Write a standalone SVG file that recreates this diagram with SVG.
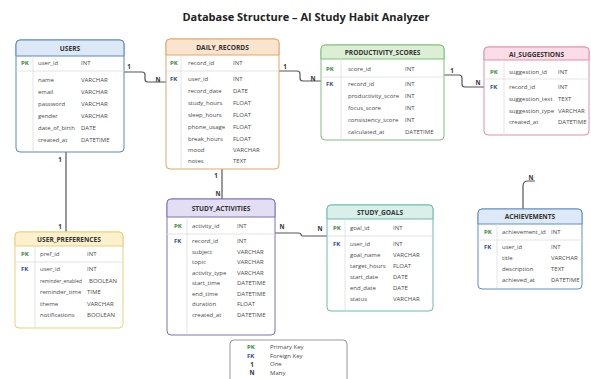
<svg xmlns="http://www.w3.org/2000/svg" width="591" height="379" viewBox="0 0 591 379">
<style>
text{font-family:"Open Sans","Noto Sans","Liberation Sans",sans-serif;fill:#333}
.title{font-size:11px;font-weight:bold;fill:#222}
.hd{font-size:6.6px;font-weight:bold;fill:#333;text-anchor:middle;dominant-baseline:central}
.f{font-size:6px;dominant-baseline:central;fill:#4a4a4a}
.pk{font-size:6px;font-weight:bold;fill:#3d8b3d;dominant-baseline:central}
.fk{font-size:6px;font-weight:bold;fill:#2f4c9a;dominant-baseline:central}
.lb{font-size:6.2px;font-weight:bold;fill:#333;text-anchor:middle;dominant-baseline:central}
.conn path{fill:none;stroke:#555;stroke-width:1.2}
.sep{stroke:#ddd;stroke-width:0.8}
</style>
<rect width="591" height="379" fill="#fff"/>
<text class="title" x="306" y="21" text-anchor="middle">Database Structure – AI Study Habit Analyzer</text>

<g id="connectors" class="conn">
<path d="M124,72 H142 Q145,72 145,75 V79 Q145,82 148,82 H166"/>
<path d="M279,71 H297 Q300,71 300,74 V78 Q300,81 303,81 H321"/>
<path d="M444,75 H459 Q462,75 462,78 V84 Q462,87 465,87 H484"/>
<path d="M66,152 V232"/>
<path d="M222,169 V199"/>
<path d="M275,233 H298 Q301,233 301,234.5 Q301,236 303,236 H327"/>
<path d="M523,209 V186 Q523,181 528,181 H535"/>
<text class="lb" x="129" y="66">1</text>
<text class="lb" x="158" y="79">N</text>
<text class="lb" x="285" y="66">1</text>
<text class="lb" x="313" y="78">N</text>
<text class="lb" x="452" y="70">1</text>
<text class="lb" x="478" y="82">N</text>
<text class="lb" x="60" y="159">1</text>
<text class="lb" x="60" y="226">1</text>
<text class="lb" x="216" y="175">1</text>
<text class="lb" x="218" y="193">N</text>
<text class="lb" x="282" y="226">N</text>
<text class="lb" x="320" y="228">N</text>
<text class="lb" x="531" y="177">N</text>
</g>

<g id="users">
<rect x="16" y="40" width="108" height="112" rx="4" fill="#fff" stroke="#5a86bf" stroke-width="1"/>
<path d="M16,56 V44 Q16,40 20,40 H120 Q124,40 124,44 V56 Z" fill="#dce8f6" stroke="#5a86bf" stroke-width="1"/>
<line class="sep" x1="16" y1="71" x2="124" y2="71"/>
<line class="sep" x1="33" y1="56" x2="33" y2="151"/>
<text class="hd" x="70" y="48">USERS</text>
<text class="pk" x="21" y="63">PK</text>
<text class="f" x="38" y="63">user_id</text><text class="f" x="81" y="63">INT</text>
<text class="f" x="38" y="80">name</text><text class="f" x="81" y="80">VARCHAR</text>
<text class="f" x="38" y="92">email</text><text class="f" x="81" y="92">VARCHAR</text>
<text class="f" x="38" y="103.5">password</text><text class="f" x="81" y="103.5">VARCHAR</text>
<text class="f" x="38" y="115.5">gender</text><text class="f" x="81" y="115.5">VARCHAR</text>
<text class="f" x="38" y="127.5">date_of_birth</text><text class="f" x="81" y="127.5">DATE</text>
<text class="f" x="38" y="139.5">created_at</text><text class="f" x="81" y="139.5">DATETIME</text>
</g>

<g id="daily_records">
<rect x="166" y="39" width="113" height="130" rx="4" fill="#fff" stroke="#e3a567" stroke-width="1"/>
<path d="M166,55 V43 Q166,39 170,39 H275 Q279,39 279,43 V55 Z" fill="#fbe4cd" stroke="#e3a567" stroke-width="1"/>
<line class="sep" x1="166" y1="71" x2="279" y2="71"/>
<line class="sep" x1="181" y1="55" x2="181" y2="168"/>
<text class="hd" x="222.5" y="47">DAILY_RECORDS</text>
<text class="pk" x="170" y="63">PK</text>
<text class="f" x="188" y="63">record_id</text><text class="f" x="233" y="63">INT</text>
<text class="fk" x="170" y="79">FK</text>
<text class="f" x="188" y="79">user_id</text><text class="f" x="233" y="79">INT</text>
<text class="f" x="188" y="91">record_date</text><text class="f" x="233" y="91">DATE</text>
<text class="f" x="188" y="103">study_hours</text><text class="f" x="233" y="103">FLOAT</text>
<text class="f" x="188" y="115">sleep_hours</text><text class="f" x="233" y="115">FLOAT</text>
<text class="f" x="188" y="127">phone_usage</text><text class="f" x="233" y="127">FLOAT</text>
<text class="f" x="188" y="138.5">break_hours</text><text class="f" x="233" y="138.5">FLOAT</text>
<text class="f" x="188" y="150">mood</text><text class="f" x="233" y="150">VARCHAR</text>
<text class="f" x="188" y="161">notes</text><text class="f" x="233" y="161">TEXT</text>
</g>

<g id="productivity_scores">
<rect x="321" y="45" width="123" height="95" rx="4" fill="#fff" stroke="#7fbf7a" stroke-width="1"/>
<path d="M321,59 V49 Q321,45 325,45 H440 Q444,45 444,49 V59 Z" fill="#dcefd5" stroke="#7fbf7a" stroke-width="1"/>
<line class="sep" x1="321" y1="77" x2="444" y2="77"/>
<line class="sep" x1="341" y1="59" x2="341" y2="139"/>
<text class="hd" x="382.5" y="52">PRODUCTIVITY_SCORES</text>
<text class="pk" x="326" y="69">PK</text>
<text class="f" x="348" y="69">score_id</text><text class="f" x="405" y="69">INT</text>
<text class="fk" x="326" y="84">FK</text>
<text class="f" x="348" y="84">record_id</text><text class="f" x="405" y="84">INT</text>
<text class="f" x="348" y="96">productivity_score</text><text class="f" x="405" y="96">INT</text>
<text class="f" x="348" y="108">focus_score</text><text class="f" x="405" y="108">INT</text>
<text class="f" x="348" y="120">consistency_score</text><text class="f" x="405" y="120">INT</text>
<text class="f" x="348" y="132">calculated_at</text><text class="f" x="405" y="132">DATETIME</text>
</g>

<g id="ai_suggestions">
<rect x="484" y="47" width="105" height="88" rx="4" fill="#fff" stroke="#e58fab" stroke-width="1"/>
<path d="M484,60 V51 Q484,47 488,47 H585 Q589,47 589,51 V60 Z" fill="#fadde7" stroke="#e58fab" stroke-width="1"/>
<line class="sep" x1="484" y1="79" x2="589" y2="79"/>
<line class="sep" x1="504" y1="60" x2="504" y2="134"/>
<text class="hd" x="536.5" y="54">AI_SUGGESTIONS</text>
<text class="pk" x="490" y="72">PK</text>
<text class="f" x="509" y="72">suggestion_id</text><text class="f" x="558" y="72">INT</text>
<text class="fk" x="490" y="87">FK</text>
<text class="f" x="509" y="87">record_id</text><text class="f" x="558" y="87">INT</text>
<text class="f" x="509" y="99">suggestion_text</text><text class="f" x="558" y="99">TEXT</text>
<text class="f" x="509" y="110.5">suggestion_type</text><text class="f" x="558" y="110.5">VARCHAR</text>
<text class="f" x="509" y="122">created_at</text><text class="f" x="558" y="122">DATETIME</text>
</g>

<g id="user_preferences">
<rect x="15" y="232" width="108" height="96" rx="4" fill="#fff" stroke="#ead07a" stroke-width="1"/>
<path d="M15,246 V236 Q15,232 19,232 H119 Q123,232 123,236 V246 Z" fill="#fcf0cd" stroke="#ead07a" stroke-width="1"/>
<line class="sep" x1="15" y1="262" x2="123" y2="262"/>
<line class="sep" x1="35" y1="246" x2="35" y2="327"/>
<text class="hd" x="69" y="239.5">USER_PREFERENCES</text>
<text class="pk" x="21" y="254">PK</text>
<text class="f" x="40" y="254">pref_id</text><text class="f" x="87" y="254">INT</text>
<text class="fk" x="21" y="269">FK</text>
<text class="f" x="40" y="269">user_id</text><text class="f" x="87" y="269">INT</text>
<text class="f" x="40" y="281" textLength="42" lengthAdjust="spacingAndGlyphs">reminder_enabled</text><text class="f" x="89" y="281">BOOLEAN</text>
<text class="f" x="40" y="292">reminder_time</text><text class="f" x="87" y="292">TIME</text>
<text class="f" x="40" y="304">theme</text><text class="f" x="87" y="304">VARCHAR</text>
<text class="f" x="40" y="315">notifications</text><text class="f" x="87" y="315">BOOLEAN</text>
</g>

<g id="study_activities">
<rect x="167" y="199" width="108" height="136" rx="4" fill="#fff" stroke="#7c70b6" stroke-width="1"/>
<path d="M167,217 V203 Q167,199 171,199 H271 Q275,199 275,203 V217 Z" fill="#e4def4" stroke="#7c70b6" stroke-width="1"/>
<line class="sep" x1="167" y1="234" x2="275" y2="234"/>
<line class="sep" x1="187" y1="217" x2="187" y2="334"/>
<text class="hd" x="221" y="208">STUDY_ACTIVITIES</text>
<text class="pk" x="174" y="226">PK</text>
<text class="f" x="192" y="226">activity_id</text><text class="f" x="237" y="226">INT</text>
<text class="fk" x="174" y="241">FK</text>
<text class="f" x="192" y="241">record_id</text><text class="f" x="237" y="241">INT</text>
<text class="f" x="192" y="251.5">subject</text><text class="f" x="237" y="251.5">VARCHAR</text>
<text class="f" x="192" y="262">topic</text><text class="f" x="237" y="262">VARCHAR</text>
<text class="f" x="192" y="272.5">activity_type</text><text class="f" x="237" y="272.5">VARCHAR</text>
<text class="f" x="192" y="283">start_time</text><text class="f" x="237" y="283">DATETIME</text>
<text class="f" x="192" y="293.5">end_time</text><text class="f" x="237" y="293.5">DATETIME</text>
<text class="f" x="192" y="304">duration</text><text class="f" x="237" y="304">FLOAT</text>
<text class="f" x="192" y="314.5">created_at</text><text class="f" x="237" y="314.5">DATETIME</text>
</g>

<g id="study_goals">
<rect x="327" y="205" width="106" height="106" rx="4" fill="#fff" stroke="#6dbbab" stroke-width="1"/>
<path d="M327,219 V209 Q327,205 331,205 H429 Q433,205 433,209 V219 Z" fill="#d9efea" stroke="#6dbbab" stroke-width="1"/>
<line class="sep" x1="327" y1="236" x2="433" y2="236"/>
<line class="sep" x1="345" y1="219" x2="345" y2="310"/>
<text class="hd" x="380" y="212">STUDY_GOALS</text>
<text class="pk" x="333" y="228">PK</text>
<text class="f" x="350" y="228">goal_id</text><text class="f" x="393" y="228">INT</text>
<text class="fk" x="333" y="244">FK</text>
<text class="f" x="350" y="244">user_id</text><text class="f" x="393" y="244">INT</text>
<text class="f" x="350" y="255">goal_name</text><text class="f" x="393" y="255">VARCHAR</text>
<text class="f" x="350" y="266">target_hours</text><text class="f" x="393" y="266">FLOAT</text>
<text class="f" x="350" y="277">start_date</text><text class="f" x="393" y="277">DATE</text>
<text class="f" x="350" y="288">end_date</text><text class="f" x="393" y="288">DATE</text>
<text class="f" x="350" y="299">status</text><text class="f" x="393" y="299">VARCHAR</text>
</g>

<g id="achievements">
<rect x="478" y="209" width="104" height="80" rx="4" fill="#fff" stroke="#5f8dcb" stroke-width="1"/>
<path d="M478,224 V213 Q478,209 482,209 H578 Q582,209 582,213 V224 Z" fill="#dde9f7" stroke="#5f8dcb" stroke-width="1"/>
<line class="sep" x1="478" y1="240" x2="582" y2="240"/>
<line class="sep" x1="497" y1="224" x2="497" y2="288"/>
<text class="hd" x="530" y="216.5">ACHIEVEMENTS</text>
<text class="pk" x="484" y="232">PK</text>
<text class="f" x="502" y="232">achievement_id</text><text class="f" x="551" y="232">INT</text>
<text class="fk" x="484" y="247">FK</text>
<text class="f" x="502" y="247">user_id</text><text class="f" x="551" y="247">INT</text>
<text class="f" x="502" y="258">title</text><text class="f" x="551" y="258">VARCHAR</text>
<text class="f" x="502" y="269">description</text><text class="f" x="551" y="269">TEXT</text>
<text class="f" x="502" y="280">achieved_at</text><text class="f" x="551" y="280">DATETIME</text>
</g>

<g id="legend">
<rect x="230" y="340" width="117" height="50" rx="4" fill="#fff" stroke="#999" stroke-width="1"/>
<text class="pk" x="247" y="347">PK</text><text class="f" x="270" y="347">Primary Key</text>
<text class="fk" x="247" y="355.5">FK</text><text class="f" x="270" y="355.5">Foreign Key</text>
<text class="lb" x="252" y="364">1</text><text class="f" x="270" y="364">One</text>
<text class="lb" x="252" y="372.5">N</text><text class="f" x="270" y="372.5">Many</text>
</g>
</svg>
